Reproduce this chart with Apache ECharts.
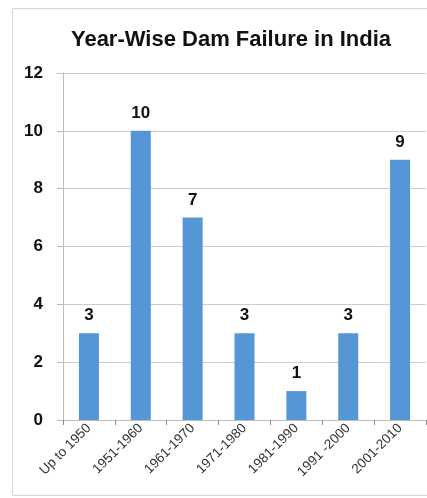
<!DOCTYPE html>
<html><head><meta charset="utf-8">
<script src="https://cdn.jsdelivr.net/npm/echarts@6/dist/echarts.min.js"></script>
<style>html,body{margin:0;padding:0;background:#fff}#c{width:427px;height:498px}</style>
</head><body><div id="c"></div>
<script>
const categories = ['Up to 1950','1951-1960','1961-1970','1971-1980','1981-1990','1991 -2000','2001-2010'];
const failures = [3,10,7,3,1,3,9];
const yTicks = [0,2,4,6,8,10,12];

const chart = echarts.init(document.getElementById('c'));
chart.setOption({
  animation:false,
  backgroundColor:'#fff',
  title:{text:'Year-Wise Dam Failure in India',left:226,top:24,textAlign:'center',
    textStyle:{fontFamily:'Liberation Sans, Arial',fontWeight:'bold',fontSize:22,color:'#111'}},
  graphic:[{type:'rect',shape:{x:12.5,y:8.5,width:430,height:487},
    style:{fill:'none',stroke:'#cfd6de',lineWidth:1},silent:true}],
  grid:{left:63,right:1,top:73,bottom:78},
  xAxis:{type:'category',data:categories,
    axisLine:{lineStyle:{color:'#bdbdbd'}},
    axisTick:{show:true,length:5,lineStyle:{color:'#8a8a8a'}},
    axisLabel:{rotate:45,fontFamily:'Liberation Sans, Arial',fontSize:13.5,color:'#333',margin:6,interval:0}},
  yAxis:{type:'value',min:yTicks[0],max:yTicks[yTicks.length-1],interval:2,
    axisLine:{show:true,lineStyle:{color:'#bdbdbd'}},
    axisTick:{show:true,length:6,lineStyle:{color:'#bdbdbd'}},
    splitLine:{lineStyle:{color:'#cdcdcd'}},
    axisLabel:{fontFamily:'Liberation Sans, Arial',fontWeight:'bold',fontSize:17,color:'#111',margin:20}},
  series:[{type:'bar',data:failures,barWidth:20,
    itemStyle:{color:'#5597d6'},
    label:{show:true,position:'top',distance:9,fontFamily:'Liberation Sans, Arial',fontWeight:'bold',fontSize:17,color:'#111'}}]
});
</script></body></html>
